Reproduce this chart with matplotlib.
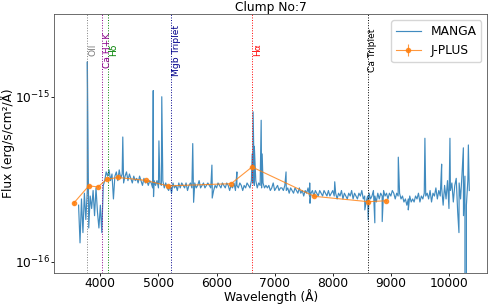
import numpy as np
import matplotlib
matplotlib.use("Agg")
import matplotlib.pyplot as plt

# MaNGA spectrum, flux in 1e-17 erg/s/cm2/A, sampled every 25 A from 3625 A
manga_start = 3625
manga_step = 25
manga_flux = [
    22, 13, 24, 15, 26, 18, 27, 16, 25, 21,
    27, 19, 28, 20, 16, 22, 15, 29, 31, 35,
    33, 36, 31, 34, 24, 33, 35, 31, 36, 32,
    34, 30, 33, 35, 31, 34, 32, 30, 33, 31,
    32, 30, 33, 31, 29, 32, 30, 31, 29, 31,
    30, 28, 31, 29, 31, 28, 30, 29, 31, 28,
    30, 28, 27, 29, 26, 30, 28, 29, 27, 30,
    28, 30, 29, 28, 30, 27, 29, 30, 28, 29,
    30, 28, 29, 31, 28, 29, 30, 28, 29, 30,
    29, 28, 30, 27, 29, 28, 30, 29, 28, 30,
    29, 28, 30, 29, 27, 29, 28, 30, 27, 29,
    28, 30, 29, 27, 29, 28, 30, 29, 28, 31,
    30, 29, 31, 28, 30, 29, 28, 30, 28, 29,
    28, 29, 27, 28, 30, 27, 28, 29, 27, 28,
    28, 27, 29, 27, 28, 26, 28, 27, 26, 28,
    27, 26, 28, 26, 27, 25, 27, 26, 28, 25,
    26, 27, 25, 27, 26, 25, 27, 26, 25, 27,
    26, 25, 27, 25, 26, 27, 25, 26, 24, 26,
    25, 27, 24, 26, 25, 24, 26, 25, 27, 24,
    26, 25, 24, 26, 25, 27, 24, 25, 23, 25,
    26, 24, 25, 27, 25, 23, 26, 24, 26, 25,
    27, 25, 26, 24, 26, 25, 27, 26, 24, 26,
    25, 26, 24, 25, 23, 24, 22, 24, 25, 23,
    24, 23, 25, 24, 26, 23, 25, 24, 26, 25,
    26, 24, 27, 23, 26, 25, 28, 24, 27, 25,
    28, 22, 29, 24, 31, 21, 27, 30, 23, 29,
    32, 20, 30, 24, 34, 19, 33, 22, 31, 27,
]

# narrow emission / absorption features and sky residuals (same units)
feature_wave = [3776, 4386, 4910, 4915, 5008, 5057, 5590, 5605, 5920, 5925,
                6350, 6613, 6629, 6650, 6768, 6785, 7196, 7603, 7608, 8034,
                8552, 8610, 8724, 8851, 9128, 9300, 9586, 9874, 10017, 10172,
                10248, 10281, 10334]
feature_flux = [163, 57, 109, 24.8, 54, 100, 52, 22.9, 38.5, 24.3,
                35, 45, 81, 50, 72, 45, 35, 30, 22.6, 30.5,
                20.6, 17.9, 17.2, 17.5, 43, 20.6, 56, 39, 56, 15,
                49, -5, 51]

# J-PLUS photometry
jplus_wave = [3540, 3800, 3960, 4110, 4300, 4780, 5160, 6250, 6610, 7680, 8610, 8920]
jplus_flux = [2.26e-16, 2.88e-16, 2.84e-16, 3.16e-16, 3.24e-16, 3.11e-16,
              2.88e-16, 2.97e-16, 3.75e-16, 2.49e-16, 2.31e-16, 2.34e-16]
jplus_err = [0.06e-16, 0.04e-16, 0.05e-16, 0.04e-16, 0.04e-16, 0.02e-16,
             0.03e-16, 0.01e-16, 0.03e-16, 0.02e-16, 0.04e-16, 0.03e-16]

# spectral line markers
line_names = ["OII", "Ca H+K", "Hδ", "Mgb Triplet", "Hα", "Ca Triplet"]
line_waves = [3776, 4024, 4138, 5224, 6616, 8598]
line_colors = ["grey", "darkmagenta", "green", "darkblue", "red", "black"]

wave = manga_start + manga_step * np.arange(len(manga_flux))
wave = np.concatenate([wave, feature_wave])
flux = np.concatenate([manga_flux, feature_flux]) * 1e-17
order = np.argsort(wave)
wave, flux = wave[order], flux[order]

fs = 8.8
fig = plt.figure(figsize=(4.9, 3.05), dpi=100)
ax = fig.add_axes([0.1102, 0.1059, 0.8843, 0.8471])

ax.plot(wave, flux, color="C0", lw=0.85, alpha=0.85, label="MANGA")
ax.errorbar(jplus_wave, jplus_flux, yerr=jplus_err, color="C1", marker="o",
            ms=3, lw=0.8, elinewidth=0.8, alpha=0.8, label="J-PLUS")

ax.set_yscale("log")
ax.set_xlim(3202, 10660)
ax.set_ylim(8.57e-17, 3.16e-15)

for name, w, c in zip(line_names, line_waves, line_colors):
    ax.axvline(w, color=c, ls=":", lw=0.7)
    ax.annotate(name, (w, 1.92e-15), xytext=(0.6, 0), textcoords="offset points",
                color=c, rotation=90, ha="left", va="center", fontsize=6.6)

ax.set_title("Clump No:7", fontsize=fs, pad=2)
ax.set_xlabel("Wavelength (Å)", fontsize=fs)
ax.set_ylabel("Flux (erg/s/cm²/Å)", fontsize=fs)
ax.xaxis.set_label_coords(0.5, -0.062)
ax.yaxis.set_label_coords(-0.09, 0.5)
ax.set_xticks([4000, 5000, 6000, 7000, 8000, 9000, 10000])
ax.tick_params(labelsize=fs, length=2, width=0.6, pad=1)
ax.tick_params(which="minor", length=0)
for s in ax.spines.values():
    s.set_linewidth(0.6)
    s.set_color("#555555")

ax.legend(fontsize=fs, loc="upper right")

fig.savefig("out.png", dpi=100)
